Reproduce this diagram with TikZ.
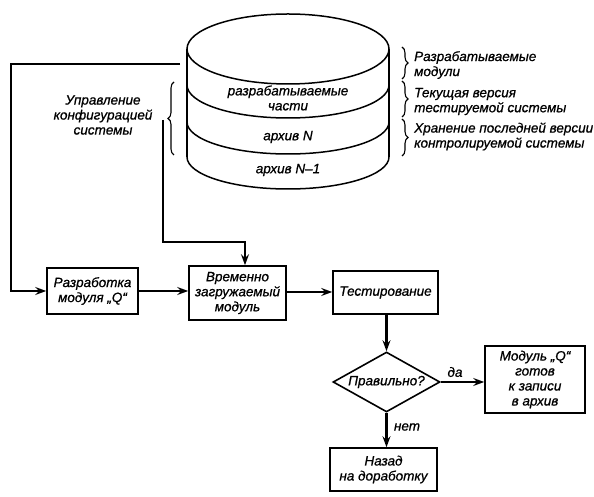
\documentclass[tikz,border=0pt]{standalone}
\usepackage{fontspec}
\setmainfont{Liberation Sans}[ItalicFeatures={FakeBold=0.8}]
\usetikzlibrary{arrows.meta,shapes.geometric,decorations.pathreplacing}
\tikzset{
  lbl/.style={font=\fontsize{13.5}{15}\selectfont\itshape, align=center, inner sep=0pt},
  box/.style={draw, line width=1.6pt, minimum width=#1, inner sep=2pt, font=\fontsize{13.5}{15}\selectfont\itshape, align=center},
  conn/.style={line width=2.2pt, -{Stealth[length=11pt,width=8pt,inset=4pt]}},
  plain/.style={line width=2.2pt},
  cyl/.style={line width=1.5pt},
  brc/.style={line width=1.1pt, decorate, decoration={brace, amplitude=6pt}}
}
\begin{document}
\begin{tikzpicture}[x=1pt,y=1pt]
\useasboundingbox (0,0) rectangle (594,497);
% cylinder
\draw[cyl] (288,448) ellipse [x radius=101pt, y radius=35pt];
\draw[cyl] (187,448) -- (187,340);
\draw[cyl] (389,448) -- (389,340);
\draw[cyl] (187,412) arc[start angle=180, end angle=360, x radius=101pt, y radius=33pt];
\draw[cyl] (187,375) arc[start angle=180, end angle=360, x radius=101pt, y radius=32pt];
\draw[cyl] (187,340) arc[start angle=180, end angle=360, x radius=101pt, y radius=32pt];
\node[lbl] (t1) at (288,399) {разрабатываемые\\части};
\node[lbl] (t2) at (288,360) {архив \textit{N}};
\node[lbl] (t3) at (288,327) {архив \textit{N}--1};
% right braces and labels
\draw[brc] (402,450) -- (402,418);
\draw[brc] (402,416) -- (402,380);
\draw[brc] (402,378) -- (402,341);
\node[lbl, anchor=west, align=left] (r1) at (414,432) {Разрабатываемые\\модули};
\node[lbl, anchor=west, align=left] (r2) at (414,395.5) {Текущая версия\\тестируемой системы};
\node[lbl, anchor=west, align=left] (r3) at (414,360.5) {Хранение последней версии\\контролируемой системы};
% left brace and label
\draw[brc] (174,342) -- (174,415);
\node[lbl] (lt) at (103,382) {Управление\\конфигурацией\\системы};
% boxes
\node[box=91pt, minimum height=46pt] (b1) at (92.5,206) {Разработка\\модуля „Q“};
\node[box=97pt, minimum height=54pt] (b2) at (237.5,204) {Временно\\загружаемый\\модуль};
\node[box=105pt, minimum height=43pt] (b3) at (385.5,204.5) {Тестирование};
\node[draw, diamond, line width=1.6pt, aspect=1.8, minimum width=107pt, minimum height=60pt, inner sep=0pt, font=\fontsize{13.5}{15}\selectfont\itshape] (d) at (386.5,115) {Правильно?};
\node[box=100pt, minimum height=67pt] (b4) at (535,117.5) {Модуль „Q“\\готов\\к записи\\в архив};
\node[box=107pt, minimum height=43pt] (b5) at (383.5,27.5) {Назад\\на доработку};
% connectors
\coordinate (c1) at (180,433);
\coordinate (c2) at (163,377);
\draw[conn] (c1) -- (11,433) -- (11,206) -- (b1.west |- 0,206);
\draw[conn] (c2) -- (163,255) -- (245,255) -- (245,255 |- b2.north);
\draw[conn] (b1.east) -- (b1.east -| b2.west);
\draw[conn] (b2.east |- 0,205) -- (b3.west |- 0,205);
\draw[conn] (b3.south -| d.north) -- (d.north);
\draw[conn] (d.east) -- (d.east -| b4.west);
\draw[conn] (d.south) -- (b5.north -| d.south);
\node[lbl] (yes) at (455,125) {да};
\node[lbl] (no) at (407,70) {нет};
\end{tikzpicture}
\end{document}
